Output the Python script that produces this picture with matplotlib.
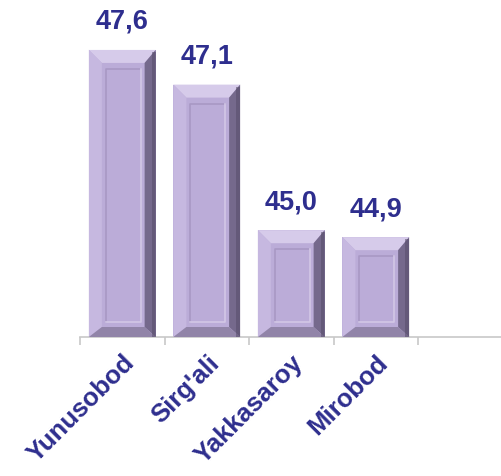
import numpy as np
import matplotlib
matplotlib.use("Agg")
import matplotlib.pyplot as plt
from matplotlib.patches import Polygon, Rectangle

# data
districts = ["Yunusobod", "Sirg'ali", "Yakkasaroy", "Mirobod"]
values = [47.6, 47.1, 45.0, 44.9]
n_slots = 5                      # category axis has one empty slot at the end
y_min, y_max = 43.46, 48.32

TEXT = "#2E2E8E"
FACE = "#BBACD8"

plt.rcParams["font.family"] = ["Liberation Sans", "DejaVu Sans"]

W, H = 501, 476
fig = plt.figure(figsize=(W / 100, H / 100), dpi=100)
ax = fig.add_axes([80 / W, 1 - 337 / H, 422.5 / W, 337 / H])
ax.set_xlim(-0.5, n_slots - 0.5)
ax.set_ylim(y_min, y_max)

x = np.arange(len(districts))
bars = ax.bar(x, np.array(values) - y_min, bottom=y_min, width=0.79,
              color=FACE, edgecolor="none", zorder=2)

# pixel -> data scale, for the bevel sizes
px_x = n_slots / 422.5
px_y = (y_max - y_min) / 337

bl, br, bt, bb = 13 * px_x, 11 * px_x, 13 * px_y, 10 * px_y
for b, v in zip(bars, values):
    x0, y0 = b.get_x(), b.get_y()
    x1, y1 = x0 + b.get_width(), y0 + b.get_height()
    fx0, fx1, fy0, fy1 = x0 + bl, x1 - br, y0 + bb, y1 - bt
    # bevel faces
    ax.add_patch(Polygon([(x0, y1), (x1, y1), (fx1, fy1), (fx0, fy1)],
                         closed=True, fc="#D6CBEA", ec="none", zorder=3))
    ax.add_patch(Polygon([(x0, y0), (x0, y1), (fx0, fy1), (fx0, fy0)],
                         closed=True, fc="#C6B8E0", ec="none", zorder=3))
    ax.add_patch(Polygon([(x1, y0), (x1, y1), (fx1, fy1), (fx1, fy0)],
                         closed=True, fc="#75698C", ec="none", zorder=3))
    ax.add_patch(Polygon([(x0, y0), (x1, y0), (fx1, fy0), (fx0, fy0)],
                         closed=True, fc="#9184A8", ec="none", zorder=3))
    # darker stripe along the far right edge
    ax.add_patch(Rectangle((x1 - 4 * px_x, y0), 4 * px_x, y1 - y0 - 2 * px_y,
                           fc="#574C6A", ec="none", zorder=3, alpha=0.55))
    # inner panel
    ix0, ix1 = fx0 + 4 * px_x, fx1 - 4 * px_x
    iy0, iy1 = fy0 + 5 * px_y, fy1 - 6 * px_y
    ax.plot([ix0, ix0, ix1], [iy0, iy1, iy1], color="#A898C4", lw=1.2, zorder=4)
    ax.plot([ix0, ix1, ix1], [iy0, iy0, iy1], color="#D2C7E6", lw=1.2, zorder=4)
    ax.text(x0 + b.get_width() / 2, y1 + 15 * px_y, f"{v:.1f}".replace(".", ","),
            ha="center", va="bottom", fontsize=19.5, fontweight="bold",
            color=TEXT, zorder=5)

# axes styling
for s in ["left", "right", "top"]:
    ax.spines[s].set_visible(False)
ax.spines["bottom"].set_color("#C8C8C8")
ax.spines["bottom"].set_linewidth(1.2)
ax.set_yticks([])
ax.set_xticks(x)
ax.set_xticklabels(districts, rotation=45, ha="right", va="top",
                   rotation_mode="anchor", fontsize=18.5, fontweight="bold",
                   color=TEXT)
ax.tick_params(axis="x", which="major", length=0, pad=10)
ax.set_xticks(np.arange(n_slots) - 0.5, minor=True)
ax.tick_params(axis="x", which="minor", length=6, color="#C8C8C8", width=1.2)

fig.savefig("out.png", dpi=100)
